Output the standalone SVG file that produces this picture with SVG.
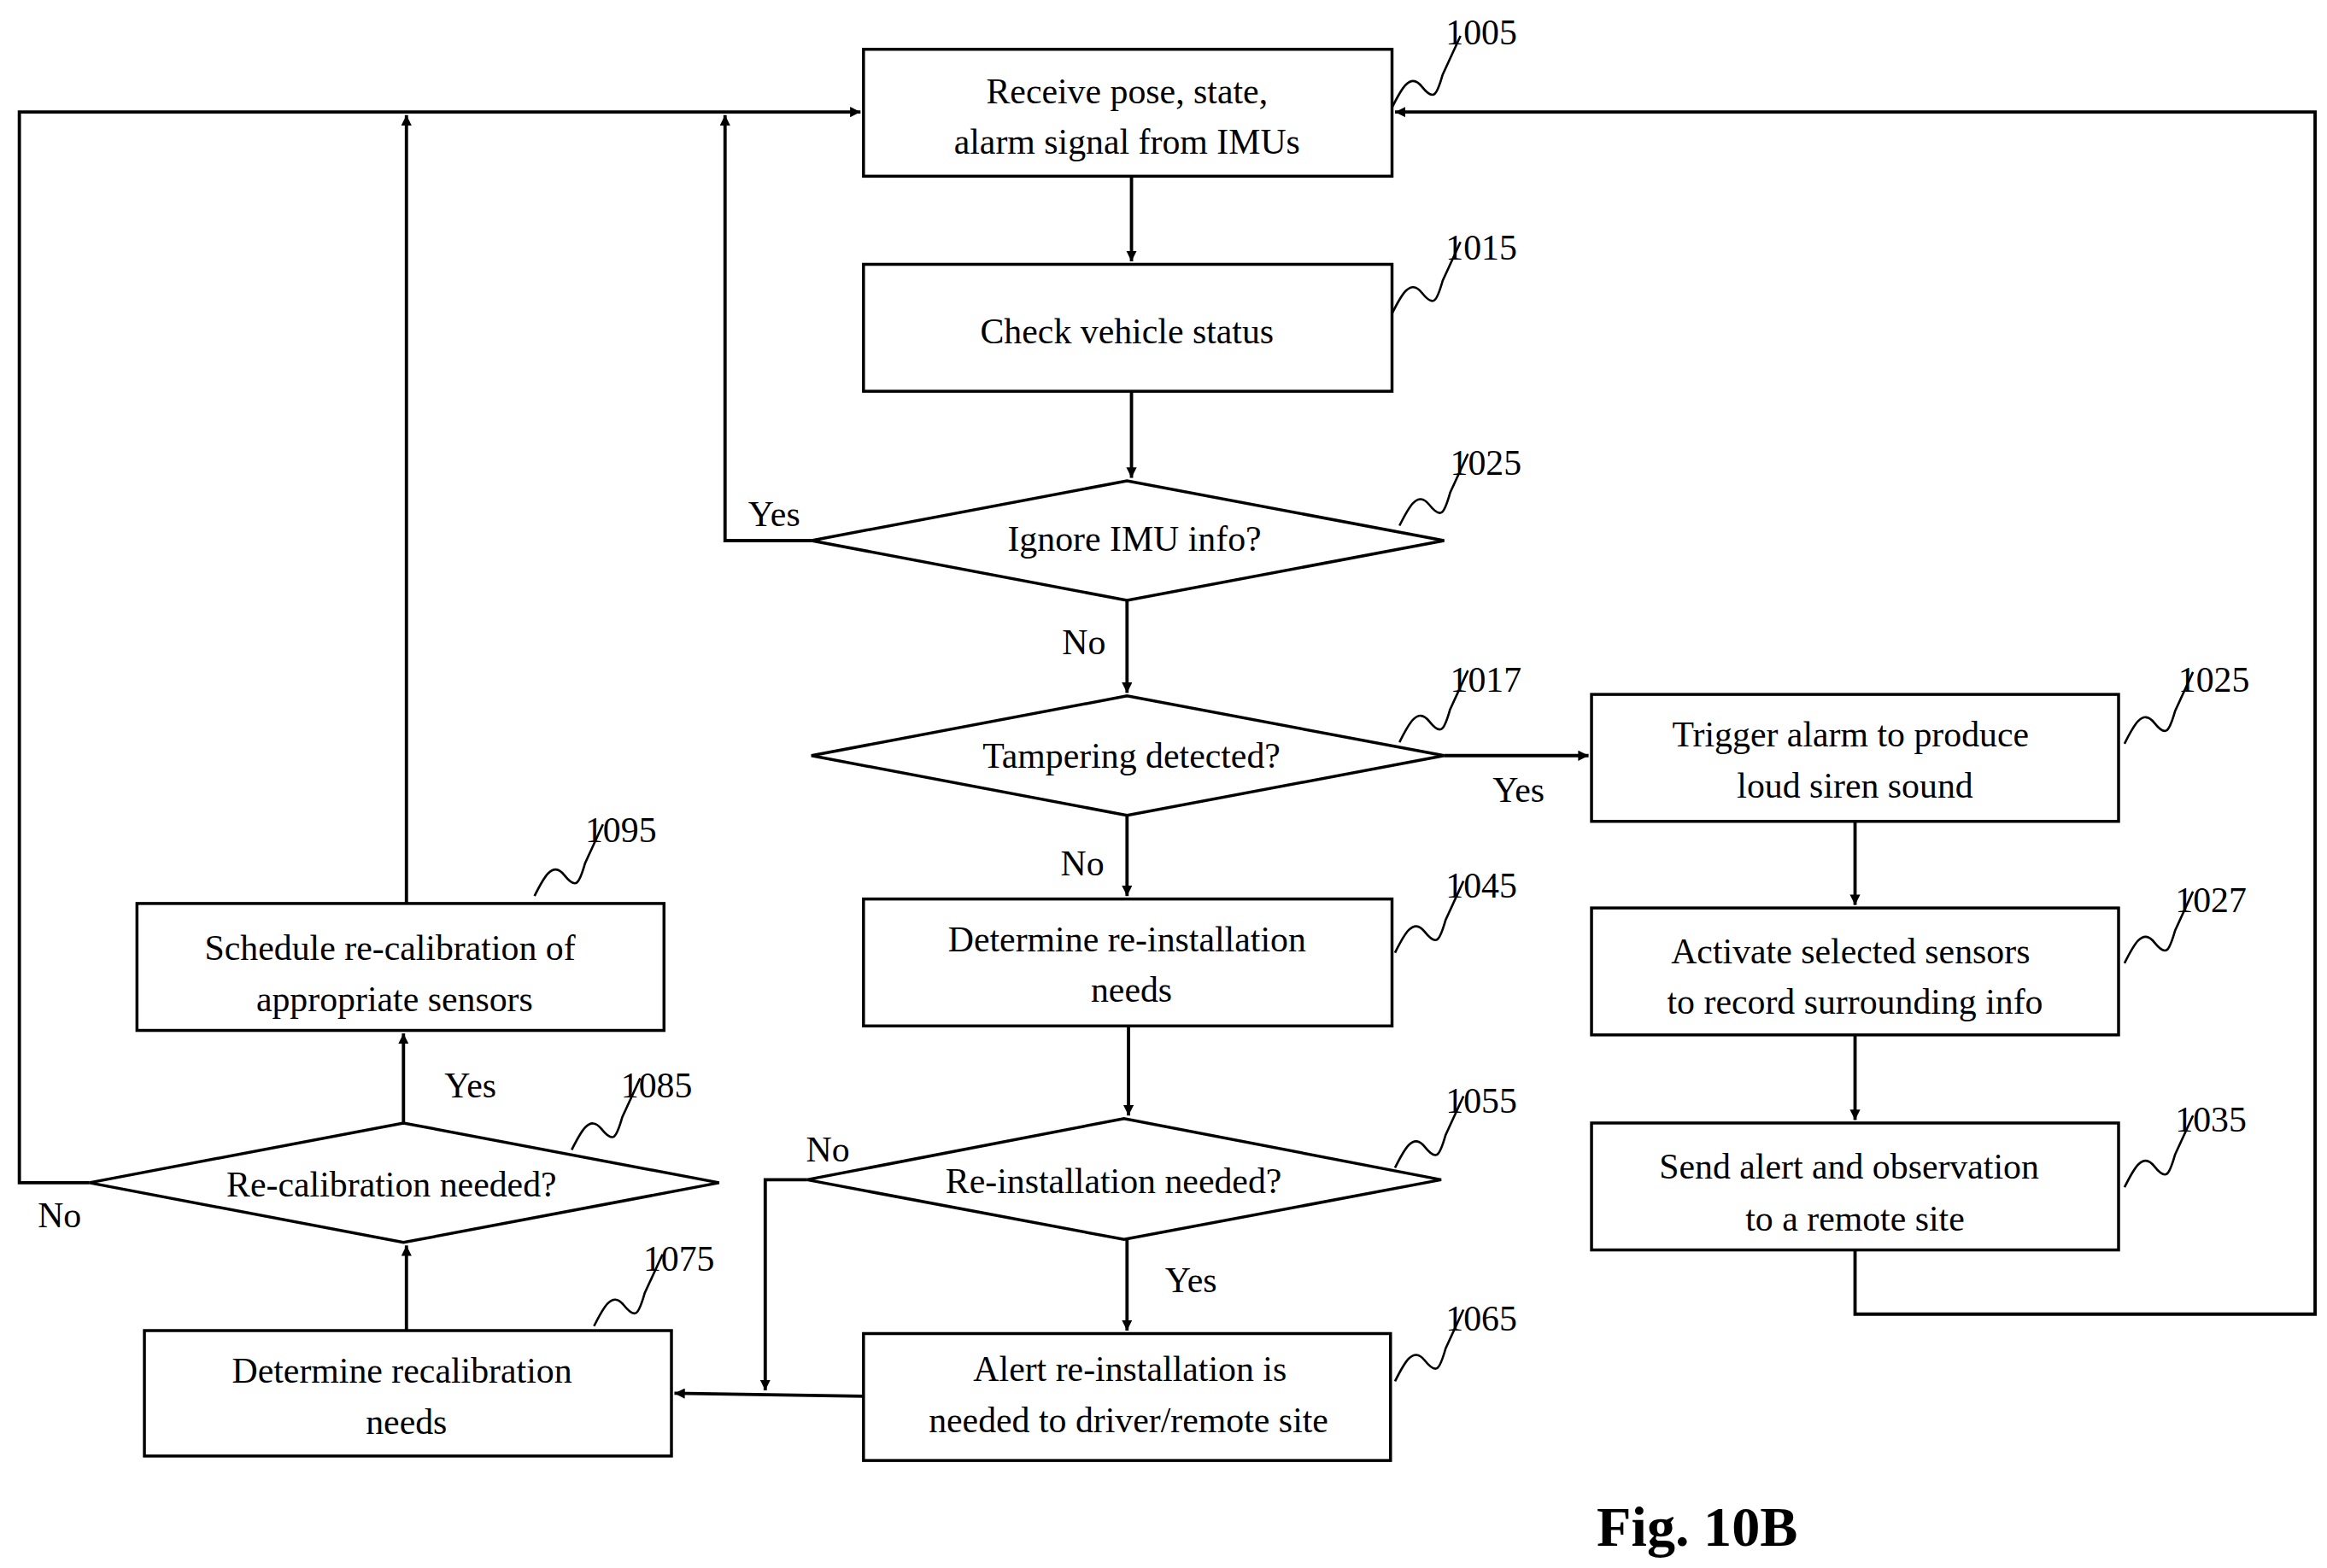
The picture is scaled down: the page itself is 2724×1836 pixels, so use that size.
<svg xmlns="http://www.w3.org/2000/svg" width="2724" height="1836" viewBox="0 0 2724 1836">
<defs>
<style>
.b{fill:#fff;stroke:#000;stroke-width:2}
.c{fill:none;stroke:#000;stroke-width:2.2}
.s{fill:none;stroke:#000;stroke-width:1.5}
text{font-family:"Liberation Serif",serif;font-size:24px;fill:#000}
.m{text-anchor:middle}
</style>
<marker id="a" viewBox="0 0 10 10" refX="10" refY="5" markerWidth="7" markerHeight="7" orient="auto-start-reverse" markerUnits="userSpaceOnUse"><path d="M0,0L10,5L0,10z" fill="#000"/></marker>
<path id="sq" d="M0,0 C6,-12 12,-24 20,-14 S30,-8 34,-22 L46,-48"/>
</defs>
<rect width="2724" height="1836" fill="#fff"/>
<g transform="scale(1.7428,1.7486)">
<g id="connectors">
<path class="c" d="M60,792H13V75H578" marker-end="url(#a)"/>
<path class="c" d="M273,605V77" marker-end="url(#a)"/>
<path class="c" d="M545,362H487V77" marker-end="url(#a)"/>
<path class="c" d="M760,118V175" marker-end="url(#a)"/>
<path class="c" d="M760,262V320" marker-end="url(#a)"/>
<path class="c" d="M757,402V464" marker-end="url(#a)"/>
<path class="c" d="M970,506H1067" marker-end="url(#a)"/>
<path class="c" d="M757,546V600" marker-end="url(#a)"/>
<path class="c" d="M758,687V747" marker-end="url(#a)"/>
<path class="c" d="M757,830V891" marker-end="url(#a)"/>
<path class="c" d="M542,790H514V931" marker-end="url(#a)"/>
<path class="c" d="M580,935L453,933" marker-end="url(#a)"/>
<path class="c" d="M273,891V834" marker-end="url(#a)"/>
<path class="c" d="M271,752V692" marker-end="url(#a)"/>
<path class="c" d="M1246,550V606" marker-end="url(#a)"/>
<path class="c" d="M1246,693V750" marker-end="url(#a)"/>
<path class="c" d="M1246,837V880H1555V75H937" marker-end="url(#a)"/>
<text x="40" y="822" class="m">No</text>
<text x="520" y="352" class="m">Yes</text>
<text x="728" y="438" class="m">No</text>
<text x="1020" y="537" class="m">Yes</text>
<text x="727" y="586" class="m">No</text>
<text x="800" y="865" class="m">Yes</text>
<text x="556" y="778" class="m">No</text>
<text x="316" y="735" class="m">Yes</text>
</g>
<g id="n1005"><rect class="b" x="580" y="33" width="355" height="85"/><text x="757" y="69" class="m">Receive pose, state,</text><text x="757" y="103" class="m">alarm signal from IMUs</text></g>
<g id="n1015"><rect class="b" x="580" y="177" width="355" height="85"/><text x="757" y="230" class="m">Check vehicle status</text></g>
<g id="n1025a"><polygon class="b" points="545,362 757,322 970,362 757,402"/><text x="762" y="369" class="m">Ignore IMU info?</text></g>
<g id="n1017"><polygon class="b" points="545,506 757,466 970,506 757,546"/><text x="760" y="514" class="m">Tampering detected?</text></g>
<g id="n1025b"><rect class="b" x="1069" y="465" width="354" height="85"/><text x="1243" y="500" class="m">Trigger alarm to produce</text><text x="1246" y="534" class="m">loud siren sound</text></g>
<g id="n1027"><rect class="b" x="1069" y="608" width="354" height="85"/><text x="1243" y="645" class="m">Activate selected sensors</text><text x="1246" y="679" class="m">to record surrounding info</text></g>
<g id="n1035"><rect class="b" x="1069" y="752" width="354" height="85"/><text x="1242" y="789" class="m">Send alert and observation</text><text x="1246" y="824" class="m">to a remote site</text></g>
<g id="n1045"><rect class="b" x="580" y="602" width="355" height="85"/><text x="757" y="637" class="m">Determine re-installation</text><text x="760" y="671" class="m">needs</text></g>
<g id="n1055"><polygon class="b" points="542,790 755,749 968,790 755,830"/><text x="748" y="799" class="m">Re-installation needed?</text></g>
<g id="n1065"><rect class="b" x="580" y="893" width="354" height="85"/><text x="759" y="925" class="m">Alert re-installation is</text><text x="758" y="959" class="m">needed to driver/remote site</text></g>
<g id="n1075"><rect class="b" x="97" y="891" width="354" height="84"/><text x="270" y="926" class="m">Determine recalibration</text><text x="273" y="960" class="m">needs</text></g>
<g id="n1085"><polygon class="b" points="60,792 271,752 483,792 271,832"/><text x="263" y="801" class="m">Re-calibration needed?</text></g>
<g id="n1095"><rect class="b" x="92" y="605" width="354" height="85"/><text x="262" y="643" class="m">Schedule re-calibration of</text><text x="265" y="677" class="m">appropriate sensors</text></g>
<g id="refs">
<text x="995" y="30" class="m">1005</text><use href="#sq" class="s" transform="translate(935,72)"/>
<text x="995" y="174" class="m">1015</text><use href="#sq" class="s" transform="translate(935,210)"/>
<text x="998" y="318" class="m">1025</text><use href="#sq" class="s" transform="translate(940,352)"/>
<text x="998" y="463" class="m">1017</text><use href="#sq" class="s" transform="translate(940,497)"/>
<text x="1487" y="463" class="m">1025</text><use href="#sq" class="s" transform="translate(1427,498)"/>
<text x="1485" y="611" class="m">1027</text><use href="#sq" class="s" transform="translate(1427,645)"/>
<text x="1485" y="758" class="m">1035</text><use href="#sq" class="s" transform="translate(1427,795)"/>
<text x="995" y="601" class="m">1045</text><use href="#sq" class="s" transform="translate(937,638)"/>
<text x="995" y="745" class="m">1055</text><use href="#sq" class="s" transform="translate(937,782)"/>
<text x="995" y="891" class="m">1065</text><use href="#sq" class="s" transform="translate(937,925)"/>
<text x="456" y="851" class="m">1075</text><use href="#sq" class="s" transform="translate(399,888)"/>
<text x="441" y="735" class="m">1085</text><use href="#sq" class="s" transform="translate(384,770)"/>
<text x="417" y="564" class="m">1095</text><use href="#sq" class="s" transform="translate(359,600)"/>
</g>
<text x="1140" y="1035" class="m" style="font-size:38px;font-weight:bold">Fig. 10B</text>
</g>
</svg>
